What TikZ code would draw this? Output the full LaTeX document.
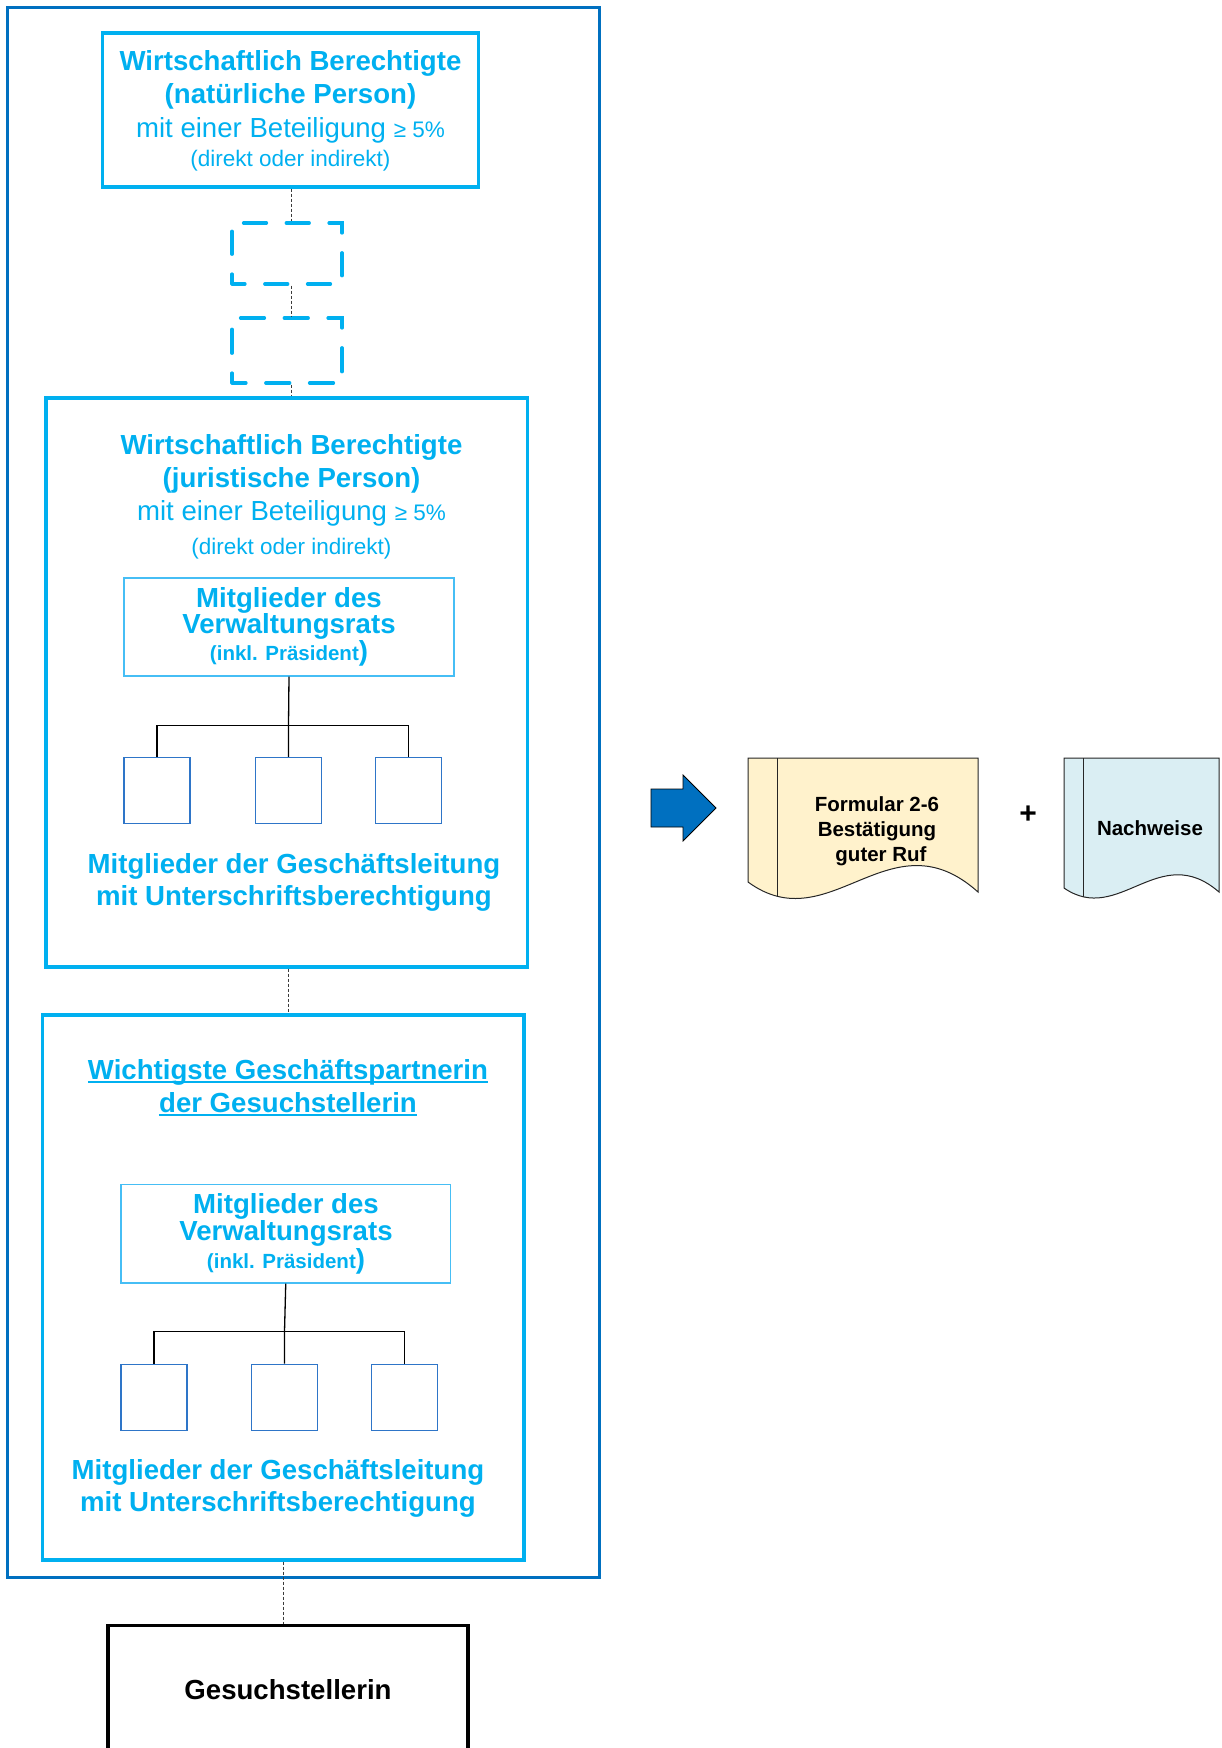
\documentclass[tikz,border=0pt]{standalone}
\usepackage{fontspec}
\setmainfont{Liberation Sans}
\usetikzlibrary{calc}

\definecolor{cyanA}{RGB}{0,176,240}
\definecolor{outerblue}{RGB}{0,112,192}
\definecolor{memberblue}{RGB}{46,117,200}
\definecolor{vrline}{RGB}{70,190,245}
\definecolor{docyellow}{RGB}{255,242,204}
\definecolor{docblue}{RGB}{218,238,243}
\definecolor{linkgray}{RGB}{60,60,60}

\newcommand\fBig{\fontsize{27.6}{30}\selectfont\bfseries}
\newcommand\fReg{\fontsize{27.6}{30}\selectfont}
\newcommand\fSm{\fontsize{22.5}{25}\selectfont}
\newcommand\fVR{\fontsize{20.5}{22}\selectfont\bfseries}
\newcommand\fDoc{\fontsize{20.5}{22}\selectfont\bfseries}

\begin{document}
\begin{tikzpicture}[x=1pt,y=-1pt,
  panel/.style={draw=cyanA, line width=3.2pt, inner sep=0pt},
  ghostbox/.style={draw=cyanA, line width=3.2pt, line cap=round, inner sep=0pt},
  link/.style={draw=linkgray, line width=1pt, dash pattern=on 3pt off 2pt},
  tree/.style={draw=black, line width=1.3pt},
  member/.style={draw=memberblue, line width=1.3pt, minimum width=66pt, minimum height=66pt, inner sep=0pt},
  vrbox/.style={draw=vrline, line width=1.2pt, inner sep=0pt},
  txt/.style={inner sep=0pt, anchor=base, text=cyanA},
  blk/.style={inner sep=0pt, anchor=base, text=black},
  docpaper/.style={draw=black!85, line width=1pt}]

\useasboundingbox (0,0) rectangle (1222,1748);
\clip (0,0) rectangle (1222,1748);

% frame around the whole ownership chain
\node[draw=outerblue, line width=3pt, minimum width=592pt, minimum height=1570pt, inner sep=0pt] (outer) at (303,792) {};

% beneficial owner, natural person
\node[panel, minimum width=376pt, minimum height=154pt] (nat) at (290.5,110) {};
\node[txt, font=\fBig] (nat1) at (290.5,70) {Wirtschaftlich Berechtigte};
\node[txt, font=\fBig] (nat2) at (290.5,103.5) {(natürliche Person)};
\node[txt, font=\fReg] (nat3) at (290.5,137) {mit einer Beteiligung {\fSm ≥ 5\%}};
\node[txt, font=\fSm] (nat4) at (290.5,166) {(direkt oder indirekt)};

% intermediate holdings
\node[ghostbox, minimum width=110pt, minimum height=61pt, dash pattern=on 23pt off 19.75pt, dash phase=10pt] (gh1) at (287,253.5) {};
\node[ghostbox, minimum width=110pt, minimum height=65pt, dash pattern=on 24pt off 19.75pt, dash phase=10pt] (gh2) at (287,350.5) {};

% beneficial owner, legal entity
\node[panel, minimum width=481.5pt, minimum height=569pt] (jur) at (286.75,682.5) {};
\node[txt, font=\fBig] (jur1) at (291.5,454.5) {Wirtschaftlich Berechtigte};
\node[txt, font=\fBig] (jur2) at (291.5,487) {(juristische Person)};
\node[txt, font=\fReg] (jur3) at (291.5,520) {mit einer Beteiligung {\fSm ≥ 5\%}};
\node[txt, font=\fSm] (jur4) at (291.5,554) {(direkt oder indirekt)};

\node[vrbox, minimum width=330pt, minimum height=98pt] (vrA) at (289,627) {};
\node[txt, font=\fBig] (vrA1) at (289,607) {Mitglieder des};
\node[txt, font=\fBig] (vrA2) at (289,633) {Verwaltungsrats};
\node[txt, font=\fVR] (vrA3) at (289,660) {(inkl. Präsident{\fBig)}};

\node[member] (mA1) at (157,790.5) {};
\node[member] (mA2) at (288.5,790.5) {};
\node[member] (mA3) at (408.5,790.5) {};
\coordinate (jA) at (288.5,725.5);
\draw[tree] (vrA.south) -- (jA) -- (mA2.north);
\draw[tree] (mA1.north) -- (mA1.north |- jA) -- (mA3.north |- jA) -- (mA3.north);

\node[txt, font=\fBig] (glA1) at (294,873) {Mitglieder der Geschäftsleitung};
\node[txt, font=\fBig] (glA2) at (294,905.5) {mit Unterschriftsberechtigung};

% main business partner
\node[panel, minimum width=481.5pt, minimum height=545pt] (wi) at (283.25,1287.5) {};
\node[txt, font=\fBig] (wi1) at (288,1079) {Wichtigste Geschäftspartnerin};
\node[txt, font=\fBig] (wi2) at (288,1112) {der Gesuchstellerin};
\draw[cyanA, line width=2pt] ($(wi1.base west)+(0,3)$) -- ($(wi1.base east)+(0,3)$);
\draw[cyanA, line width=2pt] ($(wi2.base west)+(0,3)$) -- ($(wi2.base east)+(0,3)$);

\node[vrbox, minimum width=329.5pt, minimum height=98.5pt] (vrB) at (285.75,1233.75) {};
\node[txt, font=\fBig] (vrB1) at (286,1213) {Mitglieder des};
\node[txt, font=\fBig] (vrB2) at (286,1240.5) {Verwaltungsrats};
\node[txt, font=\fVR] (vrB3) at (286,1268.5) {(inkl. Präsident{\fBig)}};

\node[member] (mB1) at (154,1397.25) {};
\node[member] (mB2) at (284.5,1397.25) {};
\node[member] (mB3) at (404.5,1397.25) {};
\coordinate (jB) at (284.5,1331.5);
\draw[tree] (vrB.south) -- (jB) -- (mB2.north);
\draw[tree] (mB1.north) -- (mB1.north |- jB) -- (mB3.north |- jB) -- (mB3.north);

\node[txt, font=\fBig] (glB1) at (278,1479) {Mitglieder der Geschäftsleitung};
\node[txt, font=\fBig] (glB2) at (278,1511.5) {mit Unterschriftsberechtigung};

% applicant
\node[draw=black, line width=3.5pt, minimum width=360pt, minimum height=200pt, inner sep=0pt] (ges) at (288,1725.5) {};
\node[blk, font=\fBig] (ges1) at (288,1699) {Gesuchstellerin};

% ownership links
\draw[link] (nat.south -| 291,0) -- (gh1.north -| 291,0);
\draw[link] (gh1.south -| 291,0) -- (gh2.north -| 291,0);
\draw[link] (gh2.south -| 291,0) -- (jur.north -| 291,0);
\draw[link] (jur.south -| 288,0) -- (wi.north -| 288,0);
\draw[link] (wi.south) -- (ges.north -| wi.south);

% block arrow
\filldraw[fill=outerblue, draw=black, line width=0.8pt]
  (651,789) -- (683,789) -- (683,775) -- (716,808) -- (683,841) -- (683,827) -- (651,827) -- cycle;

% document: form 2-6
\filldraw[fill=docyellow, docpaper]
  (748,758) -- (978,758) -- (978,892) .. controls (890,813) and (830,942) .. (748,882) -- cycle;
\begin{scope}
  \clip (748,758) -- (978,758) -- (978,892) .. controls (890,813) and (830,942) .. (748,882) -- cycle;
  \draw[docpaper] (777,750) -- (777,920);
\end{scope}
\node[blk, font=\fDoc] (doc1a) at (877,811) {Formular 2-6};
\node[blk, font=\fDoc] (doc1b) at (877,836) {Bestätigung};
\node[blk, font=\fDoc] (doc1c) at (881,861) {guter Ruf};

\node[blk, font=\fontsize{30}{30}\selectfont\bfseries, anchor=center] (plus) at (1028,815) {+};

% document: evidence
\filldraw[fill=docblue, docpaper]
  (1064,758) -- (1219,758) -- (1219,892) .. controls (1159,840) and (1119,926) .. (1064,888) -- cycle;
\begin{scope}
  \clip (1064,758) -- (1219,758) -- (1219,892) .. controls (1159,840) and (1119,926) .. (1064,888) -- cycle;
  \draw[docpaper] (1083,750) -- (1083,920);
\end{scope}
\node[blk, font=\fDoc] (doc2a) at (1150,835.5) {Nachweise};

\end{tikzpicture}
\end{document}
